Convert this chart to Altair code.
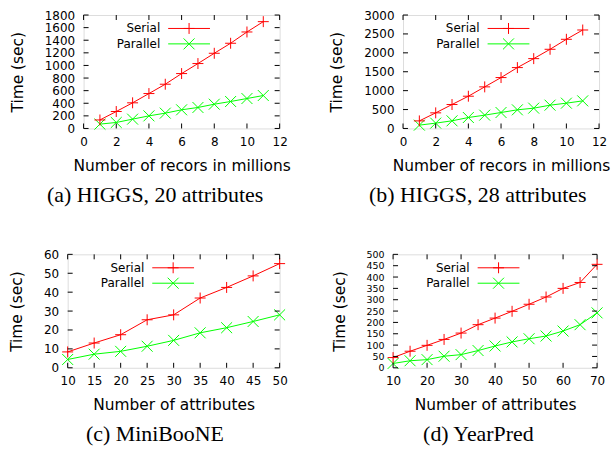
import altair as alt
import pandas as pd

# ---------------- data ----------------
series_names = ["Serial", "Parallel"]

a_x = [1, 2, 3, 4, 5, 6, 7, 8, 9, 10, 11]
a_serial = [135, 269, 407, 554, 702, 871, 1030, 1193, 1352, 1531, 1695]
a_parallel = [69, 95, 148, 200, 243, 296, 333, 385, 428, 475, 523]

b_x = [1, 2, 3, 4, 5, 6, 7, 8, 9, 10, 11]
b_serial = [200, 413, 633, 853, 1100, 1346, 1610, 1847, 2094, 2358, 2604]
b_parallel = [88, 141, 202, 290, 352, 422, 493, 537, 616, 669, 730]

c_x = [10, 15, 20, 25, 30, 35, 40, 45, 50]
c_serial = [8.4, 13.1, 17.5, 25.4, 28.0, 36.9, 42.5, 48.6, 55.1]
c_parallel = [4.4, 7.2, 8.7, 11.4, 14.5, 18.5, 21.2, 24.5, 28.0]

d_x = [10, 15, 20, 25, 30, 35, 40, 45, 50, 55, 60, 65, 70]
d_serial = [45, 73, 99, 125, 153, 190, 219, 249, 280, 312, 350, 376, 456]
d_parallel = [19, 31, 36, 51, 58, 76, 96, 114, 128, 140, 162, 190, 242]

ab_xticks = [0, 2, 4, 6, 8, 10, 12]
a_yticks = [0, 200, 400, 600, 800, 1000, 1200, 1400, 1600, 1800]
b_yticks = [0, 500, 1000, 1500, 2000, 2500, 3000]
c_xticks = [10, 15, 20, 25, 30, 35, 40, 45, 50]
c_yticks = [0, 10, 20, 30, 40, 50, 60]
d_xticks = [10, 20, 30, 40, 50, 60, 70]
d_yticks = [0, 50, 100, 150, 200, 250, 300, 350, 400, 450, 500]

captions = ["(a) HIGGS, 20 attributes", "(b) HIGGS, 28 attributes",
            "(c) MiniBooNE", "(d) YearPred"]
xtitle_records = "Number of recors in millions"
xtitle_attrs = "Number of attributes"
ytitle = "Time (sec)"

# ---------------- style ----------------
FONT = "DejaVu Sans"
RED = "#ff0000"
GREEN = "#00ff00"
PLUS = "M-1,0L1,0M0,-1L0,1"
CROSS = "M-1,-1L1,1M-1,1L1,-1"
H = 114
TICK = 5


def panel(xs, ser, par, xticks, yticks, xt, cap, W, cap_dx, ylab_size=12):
    xdom = [xticks[0], xticks[-1]]
    ydom = [yticks[0], yticks[-1]]
    xaxis = alt.Axis(values=xticks, title=xt, grid=False, ticks=False, domain=False, format="d",
                     labelFont=FONT, labelFontSize=12, labelColor="black",
                     labelPadding=8, titleFont=FONT, titleFontSize=15.5,
                     titleFontWeight="normal", titleColor="black", titlePadding=11,
                     labelFlush=False, labelOverlap=False)
    yaxis = alt.Axis(values=yticks, title=ytitle, grid=False, ticks=False, domain=False, format="d",
                     labelFont=FONT, labelFontSize=ylab_size, labelColor="black",
                     labelPadding=9, titleFont=FONT, titleFontSize=15.5,
                     titleFontWeight="normal", titleColor="black", titlePadding=19,
                     labelFlush=False, labelOverlap=False)
    xs_ = alt.Scale(domain=xdom, nice=False, zero=False)
    ys_ = alt.Scale(domain=ydom, nice=False, zero=False)

    def X():
        return alt.X("x:Q", scale=xs_, axis=xaxis)

    def Y():
        return alt.Y("y:Q", scale=ys_, axis=yaxis)

    df_s = pd.DataFrame({"x": xs, "y": ser})
    df_p = pd.DataFrame({"x": xs, "y": par})

    layers = []
    for df, col, shp in [(df_p, GREEN, CROSS), (df_s, RED, PLUS)]:
        base = alt.Chart(df)
        layers.append(base.mark_line(color=col, strokeWidth=1, clip=False).encode(x=X(), y=Y()))
        layers.append(base.mark_point(shape=shp, size=121, color=col, strokeWidth=1,
                                      filled=False, opacity=1, clip=False).encode(x=X(), y=Y()))

    # inward ticks (gnuplot style), positioned through the scales
    dfx = pd.DataFrame({"x": xticks})
    dfy = pd.DataFrame({"y": yticks})
    layers.append(alt.Chart(dfx).mark_rule(color="black", strokeWidth=1).encode(
        x=X(), y=alt.value(H - TICK), y2=alt.value(H)))
    layers.append(alt.Chart(dfx).mark_rule(color="black", strokeWidth=1).encode(
        x=X(), y=alt.value(0), y2=alt.value(TICK)))
    layers.append(alt.Chart(dfy).mark_rule(color="black", strokeWidth=1).encode(
        y=Y(), x=alt.value(0), x2=alt.value(TICK)))
    layers.append(alt.Chart(dfy).mark_rule(color="black", strokeWidth=1).encode(
        y=Y(), x=alt.value(W - TICK), x2=alt.value(W)))

    # key (gnuplot style: label, then sample line with marker)
    for i, (name, col, shp) in enumerate([(series_names[0], RED, PLUS),
                                          (series_names[1], GREEN, CROSS)]):
        yy = 13.5 + 15.5 * i
        kdf = pd.DataFrame({"name": [name]})
        kb = alt.Chart(kdf)
        layers.append(kb.mark_text(align="right", baseline="middle", font=FONT, fontSize=12,
                                   color="black").encode(text="name:N", x=alt.value(77),
                                                         y=alt.value(yy)))
        layers.append(kb.mark_rule(color=col, strokeWidth=1).encode(
            x=alt.value(85), x2=alt.value(127), y=alt.value(yy)))
        layers.append(kb.mark_point(shape=shp, size=121, color=col, strokeWidth=1,
                                    filled=False, opacity=1).encode(
            x=alt.value(106), y=alt.value(yy)))

    return alt.layer(*layers).properties(
        width=W, height=H,
        title=alt.TitleParams(text=cap, orient="bottom", anchor="middle", frame="bounds",
                              font="Liberation Serif", fontSize=22, fontWeight="normal",
                              color="black", offset=11, dx=cap_dx))


def spacer():
    # 1-px invisible cell so that each row is laid out flush by its own bounds
    return alt.Chart(pd.DataFrame({"v": [0]})).mark_rule(opacity=0, strokeWidth=0).encode(
        x=alt.value(0), x2=alt.value(1), y=alt.value(1)
    ).properties(width=1, height=1, view=alt.ViewBackground(strokeWidth=0, stroke="transparent"))


pa = panel(a_x, a_serial, a_parallel, ab_xticks, a_yticks, xtitle_records, captions[0], 197, 4.7)
pb = panel(b_x, b_serial, b_parallel, ab_xticks, b_yticks, xtitle_records, captions[1], 197, 8)
pc = panel(c_x, c_serial, c_parallel, c_xticks, c_yticks, xtitle_attrs, captions[2], 213, 6.5)
pd_ = panel(d_x, d_serial, d_parallel, d_xticks, d_yticks, xtitle_attrs, captions[3], 205, 10,
            ylab_size=9.5)

row1 = alt.hconcat(alt.hconcat(spacer(), pa, spacing=0), pb, spacing=37)
row2 = alt.hconcat(alt.hconcat(spacer(), pc, spacing=0), pd_, spacing=43)

chart = alt.vconcat(row1, row2, spacing=41.5).properties(
    padding={"left": 8, "top": 7, "right": 0, "bottom": 0}
).configure_view(
    stroke="black", strokeWidth=1.5
).configure(background="white")

chart.save("out.html", embed_options={"renderer": "svg", "actions": False})
